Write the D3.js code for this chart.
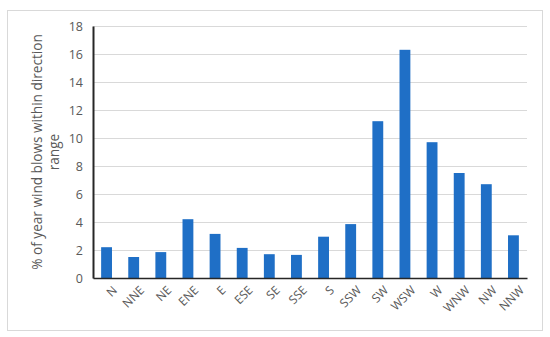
<!DOCTYPE html>
<html>
<head>
<meta charset="utf-8">
<script src="https://d3js.org/d3.v7.min.js"></script>
<style>
  body { margin: 0; background: #fff; }
  text { font-family: "Open Sans", "Noto Sans", sans-serif; }
</style>
</head>
<body>
<script>
// wind direction categories and % of year
var directions = ["N","NNE","NE","ENE","E","ESE","SE","SSE","S","SSW","SW","WSW","W","WNW","NW","NNW"];
var percents = [2.2, 1.5, 1.85, 4.2, 3.15, 2.15, 1.7, 1.65, 2.95, 3.85, 11.2, 16.3, 9.7, 7.5, 6.7, 3.05];
var yTicks = [0, 2, 4, 6, 8, 10, 12, 14, 16, 18];
var yTitle = ["% of year wind blows within direction", "range"];

var W = 550, H = 337;
var margin = {top: 26, right: 23, bottom: 59, left: 93};
var width = W - margin.left - margin.right,
    height = H - margin.top - margin.bottom;

var svg = d3.select("body").append("svg").attr("width", W).attr("height", H);

// outer chart border
svg.append("rect")
  .attr("x", 7.5).attr("y", 10.5)
  .attr("width", 535).attr("height", 320)
  .attr("fill", "none").attr("stroke", "#d9d9d9");

var g = svg.append("g").attr("transform", "translate(" + margin.left + "," + margin.top + ")");

var x = d3.scaleBand().domain(directions).range([0, width]).paddingInner(0.6).paddingOuter(0.3);
var y = d3.scaleLinear().domain([0, 18]).range([height, 0]);

// gridlines
g.append("g")
  .selectAll("line")
  .data(yTicks.slice(1))
  .enter().append("line")
  .attr("x1", 0).attr("x2", width)
  .attr("y1", function(d) { return Math.round(y(d)) + 0.5; })
  .attr("y2", function(d) { return Math.round(y(d)) + 0.5; })
  .attr("stroke", "#d9d9d9");

// bars
g.selectAll(".bar")
  .data(percents)
  .enter().append("rect")
  .attr("class", "bar")
  .attr("x", function(d, i) { return x(directions[i]); })
  .attr("width", x.bandwidth())
  .attr("y", function(d) { return y(d); })
  .attr("height", function(d) { return height - y(d); })
  .attr("fill", "#1f6fc6");

// y axis
var yAxis = g.append("g")
  .call(d3.axisLeft(y).tickValues(yTicks).tickSize(0).tickPadding(10));
yAxis.select(".domain").attr("stroke", "#262626").attr("stroke-width", 2);
yAxis.selectAll("text").attr("fill", "#595959").style("font-size", "12.5px");

// x axis
var xAxis = g.append("g")
  .attr("transform", "translate(0," + height + ")")
  .call(d3.axisBottom(x).tickSize(0).tickPadding(10));
xAxis.select(".domain").attr("stroke", "#262626").attr("stroke-width", 1.5);
xAxis.selectAll("text")
  .attr("fill", "#595959")
  .style("font-size", "12px")
  .attr("text-anchor", "end")
  .attr("dx", "-0.1em")
  .attr("dy", "0.6em")
  .attr("transform", "rotate(-45)");

// y axis title, two lines
svg.selectAll(".ytitle")
  .data(yTitle)
  .enter().append("text")
  .attr("class", "ytitle")
  .attr("transform", function(d, i) {
    return "translate(" + (42 + i * 17) + "," + (margin.top + height / 2) + ") rotate(-90)";
  })
  .attr("text-anchor", "middle")
  .attr("fill", "#595959")
  .style("font-size", "13.6px")
  .text(function(d) { return d; });
</script>
</body>
</html>
